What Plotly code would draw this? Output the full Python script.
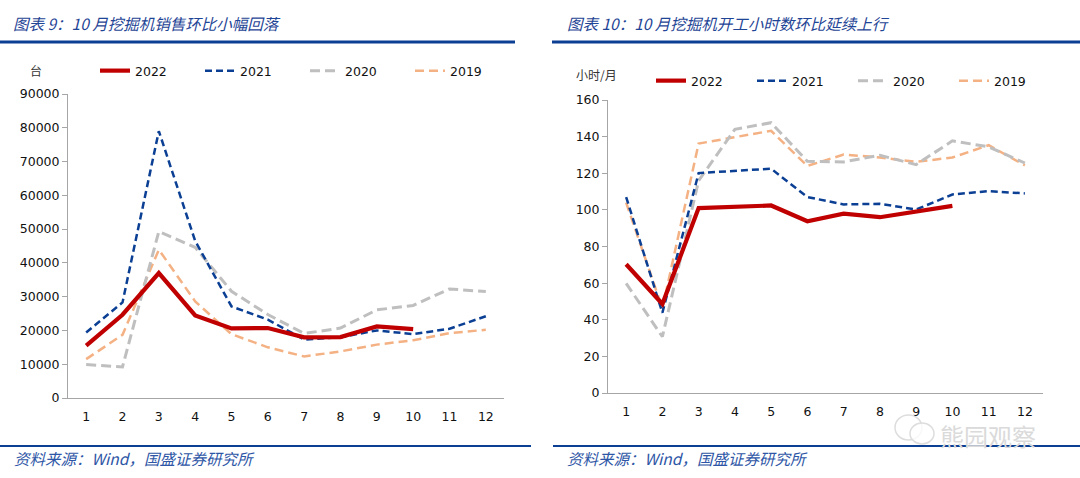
import plotly.graph_objects as go

months = list(range(1, 13))
month_labels = [str(m) for m in months]

# Left chart: excavator sales (台)
sales_2022 = [15500, 24650, 37000, 24450, 20600, 20700, 17950, 18050, 21200, 20400]
sales_2021 = [19400, 28300, 79000, 46500, 27100, 23200, 17300, 18000, 20000, 18900, 20500, 24200]
sales_2020 = [9900, 9200, 49300, 44600, 31600, 24700, 19100, 20700, 26100, 27400, 32300, 31500]
sales_2019 = [11500, 18700, 43900, 28600, 18900, 15000, 12300, 13800, 15800, 17100, 19200, 20200]

# Right chart: working hours (小时/月)
hours_2022 = [70.3, 48.6, 101, 101.5, 102.4, 93.8, 97.9, 96.0, 99.1, 102.2]
hours_2021 = [107, 43.8, 120.1, 121.2, 122.5, 107, 103, 103.3, 100.2, 108.4, 110.2, 109]
hours_2020 = [59.9, 30.7, 116, 144, 147.6, 126.5, 126.2, 129.8, 124.7, 137.7, 134.4, 125.6]
hours_2019 = [104, 46.2, 136.2, 139.5, 143.2, 124, 130.2, 128.6, 126.2, 128.6, 135.3, 124.3]

years = ["2022", "2021", "2020", "2019"]
colors = {"2022": "#C00000", "2021": "#0B3F94", "2020": "#BFBFBF", "2019": "#F4B183"}
dashes = {"2022": "solid", "2021": "7px,4px", "2020": "10px,5px", "2019": "9px,5px"}
widths = {"2022": 4.2, "2021": 2.5, "2020": 3, "2019": 2.5}

W, H = 1080, 478
def px(x):
    return x / W
def py(y):
    return 1 - y / H

fig = go.Figure()

left_series = {"2022": sales_2022, "2021": sales_2021, "2020": sales_2020, "2019": sales_2019}
right_series = {"2022": hours_2022, "2021": hours_2021, "2020": hours_2020, "2019": hours_2019}

for yr in ["2019", "2020", "2021", "2022"]:
    vals = left_series[yr]
    fig.add_trace(go.Scatter(
        x=months[:len(vals)], y=vals, mode="lines", name=yr,
        line=dict(color=colors[yr], width=widths[yr], dash=dashes[yr]),
        xaxis="x", yaxis="y", legend="legend", legendrank=years.index(yr) + 1,
    ))
for yr in ["2019", "2020", "2021", "2022"]:
    vals = right_series[yr]
    fig.add_trace(go.Scatter(
        x=months[:len(vals)], y=vals, mode="lines", name=yr,
        line=dict(color=colors[yr], width=widths[yr], dash=dashes[yr]),
        xaxis="x2", yaxis="y2", legend="legend2", legendrank=years.index(yr) + 1,
    ))

tick_font = dict(family="DejaVu Sans", size=12.5, color="#111111")
axis_line = "#A6A6A6"

common_x = dict(
    tickmode="array", tickvals=months, ticktext=month_labels, range=[0.5, 12.5],
    showgrid=False, zeroline=False, showline=True, linecolor=axis_line, linewidth=1,
    ticks="", tickfont=tick_font, ticklabelstandoff=7, automargin=False,
)
common_y = dict(
    showgrid=False, zeroline=False, showline=True, linecolor=axis_line, linewidth=1,
    ticks="outside", ticklen=5, tickcolor=axis_line, tickfont=tick_font,
    tickformat="d", automargin=False,
)

legend_common = dict(
    orientation="h", font=dict(family="DejaVu Sans", size=12.5, color="#111111"),
    bgcolor="rgba(0,0,0,0)", borderwidth=0, entrywidthmode="pixels",
    xanchor="left", yanchor="middle", traceorder="normal",
)

title_font = dict(family="Noto Sans CJK SC", size=15.5, color="#1F4596", style="italic")
foot_font = dict(family="Noto Sans CJK SC", size=15.5, color="#2E56A6", style="italic")
blue_line = "#0B3F94"

fig.update_layout(
    template="none",
    width=W, height=H, margin=dict(l=0, r=0, t=0, b=0, pad=0, autoexpand=False),
    paper_bgcolor="white", plot_bgcolor="white",
    showlegend=True,
    xaxis=dict(domain=[px(68), px(504)], anchor="y", **common_x),
    yaxis=dict(domain=[py(398), py(94)], anchor="x", range=[0, 90000], dtick=10000, **common_y),
    xaxis2=dict(domain=[px(608), px(1043)], anchor="y2", **common_x),
    yaxis2=dict(domain=[py(393), py(100)], anchor="x2", range=[0, 160], dtick=20, **common_y),
    legend=dict(x=px(95), y=py(71), entrywidth=60, **legend_common),
    legend2=dict(x=px(651), y=py(81), entrywidth=56, **legend_common),
    shapes=[
        dict(type="line", xref="paper", yref="paper", x0=0, x1=px(515), y0=py(42), y1=py(42),
             line=dict(color=blue_line, width=3)),
        dict(type="line", xref="paper", yref="paper", x0=px(552), x1=1, y0=py(42), y1=py(42),
             line=dict(color=blue_line, width=3)),
        dict(type="line", xref="paper", yref="paper", x0=0, x1=px(531), y0=py(446), y1=py(446),
             line=dict(color=blue_line, width=2)),
        dict(type="line", xref="paper", yref="paper", x0=px(553), x1=1, y0=py(446), y1=py(446),
             line=dict(color=blue_line, width=2)),
        # watermark bubbles
        dict(type="circle", xref="paper", yref="paper", x0=px(895), x1=px(922), y0=py(440), y1=py(415),
             line=dict(color="#DDDDDD", width=1.5), fillcolor="rgba(255,255,255,0.6)"),
        dict(type="circle", xref="paper", yref="paper", x0=px(910), x1=px(934), y0=py(444), y1=py(423),
             line=dict(color="#DDDDDD", width=1.5), fillcolor="rgba(255,255,255,0.8)"),
    ],
    annotations=[
        dict(text="图表 9：10 月挖掘机销售环比小幅回落", x=px(11), y=py(23), xref="paper", yref="paper",
             xanchor="left", yanchor="middle", showarrow=False, font=title_font),
        dict(text="图表 10：10 月挖掘机开工小时数环比延续上行", x=px(565), y=py(23), xref="paper", yref="paper",
             xanchor="left", yanchor="middle", showarrow=False, font=title_font),
        dict(text="资料来源：Wind，国盛证券研究所", x=px(12), y=py(458), xref="paper", yref="paper",
             xanchor="left", yanchor="middle", showarrow=False, font=foot_font),
        dict(text="资料来源：Wind，国盛证券研究所", x=px(565), y=py(458), xref="paper", yref="paper",
             xanchor="left", yanchor="middle", showarrow=False, font=foot_font),
        dict(text="台", x=px(36), y=py(71), xref="paper", yref="paper",
             xanchor="center", yanchor="middle", showarrow=False,
             font=dict(family="Noto Sans CJK SC", size=12, color="#333333")),
        dict(text="小时/月", x=px(574), y=py(74), xref="paper", yref="paper",
             xanchor="left", yanchor="middle", showarrow=False,
             font=dict(family="Noto Sans CJK SC", size=12, color="#333333")),
        dict(text="熊园观察", x=px(938), y=py(435), xref="paper", yref="paper",
             xanchor="left", yanchor="middle", showarrow=False,
             font=dict(family="Noto Sans CJK SC", size=24, color="#DADADA")),
    ],
)

# remove the browser's default 8px body margin so the figure sits at the page origin
fig.write_html("out.html", config={"displayModeBar": False},
               post_script="document.body.style.margin='0';")
